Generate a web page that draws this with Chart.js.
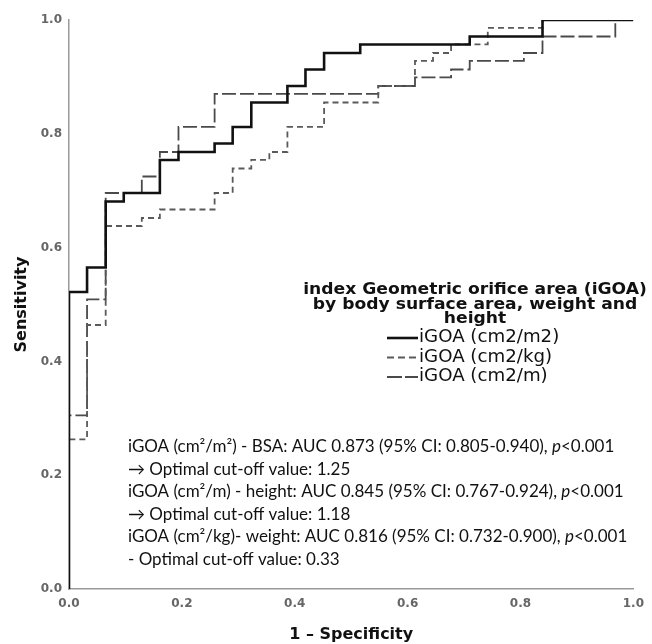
<!DOCTYPE html>
<html>
<head>
<meta charset="utf-8">
<script src="https://cdn.jsdelivr.net/npm/chart.js@4.4.0/dist/chart.umd.min.js"></script>
<style>
  html, body { margin: 0; padding: 0; background: #fff; }
  #wrap { width: 652px; height: 644px; }
</style>
</head>
<body>
<div id="wrap"><canvas id="rocCanvas"></canvas></div>
<script>
// ROC curves: 1 - specificity (x) vs sensitivity (y)
const bsaFpr  = [0, 0, 0.032, 0.065, 0.097, 0.161, 0.194, 0.258, 0.290, 0.323, 0.387, 0.419, 0.452, 0.516, 0.710, 0.839, 1.0];
const bsaSens = [0, 0.522, 0.565, 0.681, 0.696, 0.754, 0.768, 0.783, 0.812, 0.855, 0.884, 0.913, 0.942, 0.957, 0.971, 1.0, 1.0];

const weightFpr  = [0, 0, 0.032, 0.065, 0.129, 0.161, 0.258, 0.290, 0.323, 0.355, 0.387, 0.452, 0.548, 0.613, 0.645, 0.677, 0.742, 0.839, 1.0];
const weightSens = [0, 0.263, 0.464, 0.638, 0.652, 0.667, 0.696, 0.739, 0.754, 0.768, 0.812, 0.855, 0.884, 0.928, 0.942, 0.957, 0.986, 1.0, 1.0];

const heightFpr  = [0, 0, 0.032, 0.065, 0.129, 0.161, 0.194, 0.258, 0.548, 0.613, 0.677, 0.710, 0.806, 0.839, 0.968, 1.0];
const heightSens = [0, 0.305, 0.509, 0.696, 0.725, 0.768, 0.812, 0.870, 0.884, 0.899, 0.913, 0.928, 0.942, 0.971, 1.0, 1.0];

const tickValues = [0, 0.2, 0.4, 0.6, 0.8, 1.0];
const seriesLabels = ['iGOA (cm2/m2)', 'iGOA (cm2/kg)', 'iGOA (cm2/m)'];
const legendTitle = ['index Geometric orifice area (iGOA)', 'by body surface area, weight and', 'height'];

// each note line is a list of [text, italic] runs
const noteLines = [
    [['iGOA (cm\u00b2/m\u00b2) - BSA: AUC 0.873 (95% CI: 0.805-0.940), ', false], ['p', true], ['<0.001', false]],
    [['\u2192 Optimal cut-off value: 1.25', false]],
    [['iGOA (cm\u00b2/m) - height: AUC 0.845 (95% CI: 0.767-0.924), ', false], ['p', true], ['<0.001', false]],
    [['\u2192 Optimal cut-off value: 1.18', false]],
    [['iGOA (cm\u00b2/kg)- weight: AUC 0.816 (95% CI: 0.732-0.900), ', false], ['p', true], ['<0.001', false]],
    [['- Optimal cut-off value: 0.33', false]]
];

function toPoints(xs, ys) {
    return xs.map((x, i) => ({ x: x, y: ys[i] }));
}

// draw text stretched sideways a little (the source figure is slightly wide)
function wideText(ctx, text, x, y, stretch) {
    ctx.save();
    ctx.translate(x, y);
    ctx.scale(stretch, 1);
    ctx.fillText(text, 0, 0);
    ctx.restore();
}

// Legend block + AUC notes drawn inside the plot area
const annotationPlugin = {
    id: 'rocAnnotations',
    afterDraw(chart) {
        const ctx = chart.ctx;
        ctx.save();
        ctx.fillStyle = '#111';
        ctx.textBaseline = 'middle';

        // legend title
        ctx.textAlign = 'center';
        ctx.font = 'bold 16.5px "DejaVu Sans"';
        legendTitle.forEach((line, i) => wideText(ctx, line, 475, 290 + i * 14.5, 1.04));

        // legend entries with line samples in the dataset styles
        ctx.textAlign = 'left';
        ctx.font = '17px "DejaVu Sans"';
        chart.data.datasets.forEach((ds, i) => {
            const y = 338 + i * 19.5;
            ctx.save();
            ctx.strokeStyle = ds.borderColor;
            ctx.lineWidth = ds.borderWidth;
            ctx.setLineDash(ds.legendDash || []);
            ctx.beginPath();
            ctx.moveTo(387, y);
            ctx.lineTo(418, y);
            ctx.stroke();
            ctx.restore();
            wideText(ctx, ds.label, 419, y, 1.07);
        });

        // AUC / cut-off notes
        noteLines.forEach((runs, i) => {
            let x = 128;
            const y = 447 + i * 22.5;
            runs.forEach(([text, italic]) => {
                ctx.font = (italic ? 'italic ' : '') + '17px Lato';
                ctx.fillText(text, x, y);
                x += ctx.measureText(text).width;
            });
        });
        ctx.restore();
    }
};

const axisTickFont = { family: '"DejaVu Sans"', size: 12, weight: 'bold' };
const axisTitleFont = { family: '"DejaVu Sans"', size: 16, weight: 'bold' };

new Chart(document.getElementById('rocCanvas'), {
    type: 'scatter',
    data: {
        datasets: [
            {
                label: seriesLabels[0],
                data: toPoints(bsaFpr, bsaSens),
                borderColor: '#111',
                borderWidth: 2.6,
                legendDash: []
            },
            {
                label: seriesLabels[1],
                data: toPoints(weightFpr, weightSens),
                borderColor: '#5a5a5a',
                borderWidth: 1.8,
                borderDash: [6, 4],
                legendDash: [7, 4]
            },
            {
                label: seriesLabels[2],
                data: toPoints(heightFpr, heightSens),
                borderColor: '#4a4a4a',
                borderWidth: 1.8,
                borderDash: [14, 4],
                legendDash: [15, 3]
            }
        ].map(ds => Object.assign(ds, {
            showLine: true,
            stepped: 'before',
            pointRadius: 0,
            fill: false
        }))
    },
    options: {
        responsive: true,
        maintainAspectRatio: false,
        animation: false,
        layout: { padding: { top: 20, right: 11, left: 0, bottom: 0 } },
        plugins: {
            legend: { display: false },
            tooltip: { enabled: false }
        },
        scales: {
            x: {
                type: 'linear',
                min: 0,
                max: 1,
                afterBuildTicks: s => { s.ticks = tickValues.map(v => ({ value: v })); },
                afterFit: s => { s.height = 55; },
                grid: { display: false, drawTicks: false },
                border: { color: '#9a9a9a', width: 1.5 },
                ticks: { color: '#666', font: axisTickFont, padding: 8, maxRotation: 0,
                         callback: v => v.toFixed(1) },
                title: { display: true, text: '1 \u2013 Specificity', color: '#111', font: axisTitleFont,
                         padding: { top: 0, bottom: 0 } }
            },
            y: {
                type: 'linear',
                min: 0,
                max: 1,
                afterBuildTicks: s => { s.ticks = tickValues.map(v => ({ value: v })); },
                afterFit: s => { s.width = 69; },
                grid: { display: false, drawTicks: false },
                border: { color: '#9a9a9a', width: 1.5 },
                ticks: { color: '#666', font: axisTickFont, padding: 7,
                         callback: v => v.toFixed(1) },
                title: { display: true, text: 'Sensitivity', color: '#111', font: axisTitleFont,
                         padding: { top: 12, bottom: 0 } }
            }
        }
    },
    plugins: [annotationPlugin]
});
</script>
</body>
</html>
